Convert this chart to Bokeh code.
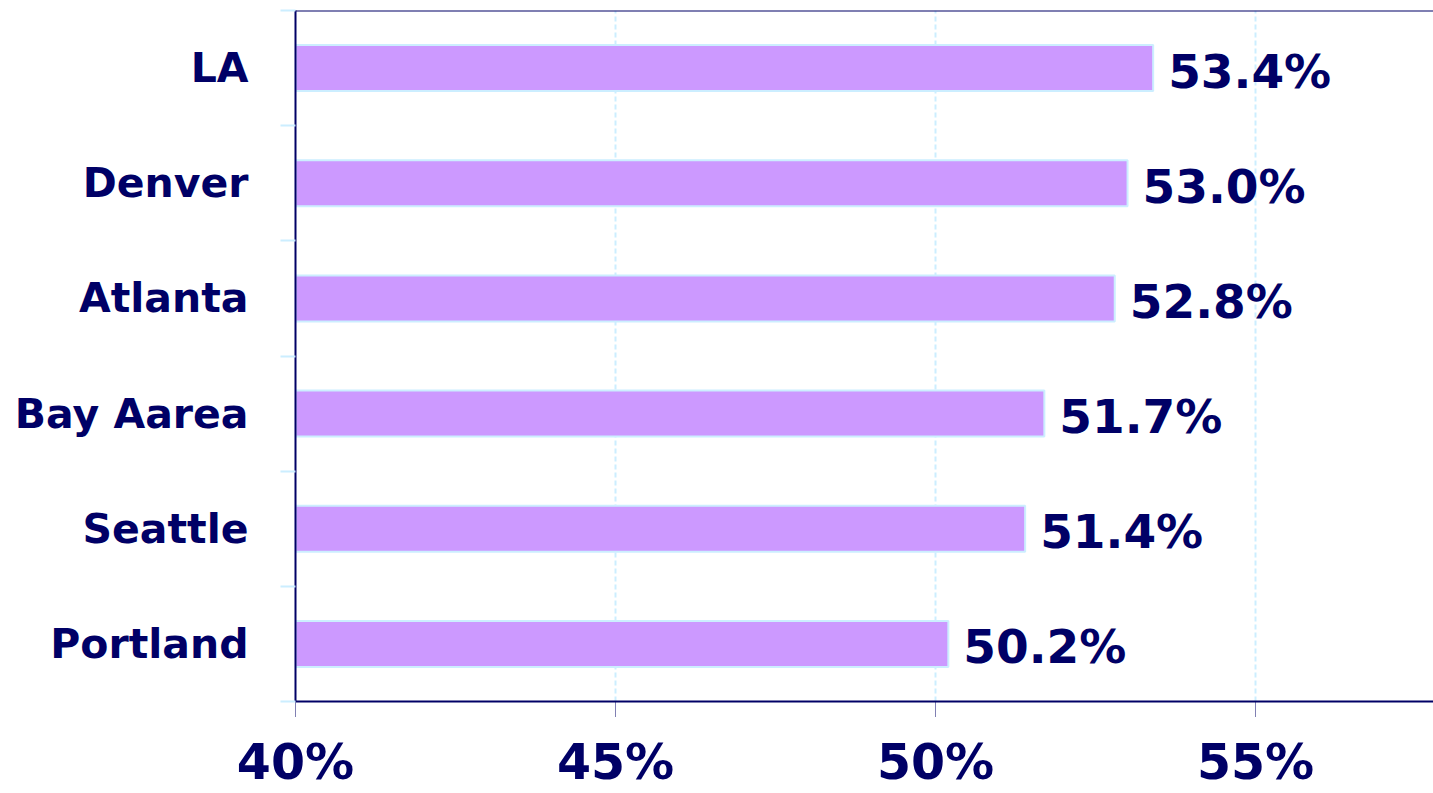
from bokeh.plotting import figure
from bokeh.models import ColumnDataSource, FixedTicker, Range1d, Span
from bokeh.core.properties import value
from bokeh.embed import file_html
from bokeh.resources import INLINE

# ---- data ----
cities = ["Portland", "Seattle", "Bay Aarea", "Atlanta", "Denver", "LA"]
shares = [50.2, 51.4, 51.7, 52.8, 53.0, 53.4]
x_ticks = [40, 45, 50, 55]
x_tick_labels = ["40%", "45%", "50%", "55%"]

NAVY = "#000066"
LIGHT = "#CCEEFF"
FONT = "DejaVu Sans"

ypos = [i + 0.5 for i in range(len(cities))]
src = ColumnDataSource(dict(
    y=ypos,
    right=shares,
    lab=[f"{v:.1f}%" for v in shares],
))

p = figure(width=1433, height=793, output_backend="svg", toolbar_location=None,
           x_range=Range1d(40, 57.78), y_range=Range1d(0, len(cities)),
           min_border_top=10, min_border_right=0, min_border_left=295, min_border_bottom=0)
p.outline_line_color = None
p.background_fill_color = "white"
p.border_fill_color = "white"

p.hbar(y="y", left=40, right="right", height=0.4, source=src,
       fill_color="#CC99FF", line_color=LIGHT, line_width=2)

p.text(x="right", y="y", text="lab", source=src, x_offset=15, y_offset=3,
       text_baseline="middle", text_align="left",
       text_font=value(FONT), text_font_style="bold", text_font_size="47px",
       text_color=NAVY)

# top border line
p.add_layout(Span(location=len(cities), dimension="width", line_color=NAVY, line_width=2))

# x axis
xa = p.xaxis[0]
xa.ticker = FixedTicker(ticks=x_ticks)
xa.major_label_overrides = {t: l for t, l in zip(x_ticks, x_tick_labels)}
xa.axis_line_color = NAVY
xa.axis_line_width = 2
xa.major_tick_line_color = NAVY
xa.major_tick_line_dash = "1 1"
xa.major_tick_out = 15
xa.major_tick_in = 0
xa.minor_tick_line_color = None
xa.minor_tick_out = 0
xa.minor_tick_in = 0
xa.major_label_text_font = FONT
xa.major_label_text_font_style = "bold"
xa.major_label_text_font_size = "49px"
xa.major_label_text_color = NAVY
xa.major_label_standoff = 17

# y axis
ya = p.yaxis[0]
ya.ticker = FixedTicker(ticks=ypos, minor_ticks=list(range(len(cities) + 1)))
ya.major_label_overrides = {y: c for y, c in zip(ypos, cities)}
ya.axis_line_color = NAVY
ya.axis_line_width = 2
ya.major_tick_line_color = None
ya.major_tick_out = 0
ya.major_tick_in = 0
ya.minor_tick_line_color = LIGHT
ya.minor_tick_line_width = 2
ya.minor_tick_out = 15
ya.minor_tick_in = 0
ya.major_label_text_font = FONT
ya.major_label_text_font_style = "bold"
ya.major_label_text_font_size = "41px"
ya.major_label_text_color = NAVY
ya.major_label_standoff = 32

p.xgrid.ticker = FixedTicker(ticks=x_ticks)
p.xgrid.grid_line_color = LIGHT
p.xgrid.grid_line_dash = "5 3"
p.xgrid.grid_line_width = 2
p.ygrid.grid_line_color = None

open("out.html", "w").write(file_html(p, INLINE))
